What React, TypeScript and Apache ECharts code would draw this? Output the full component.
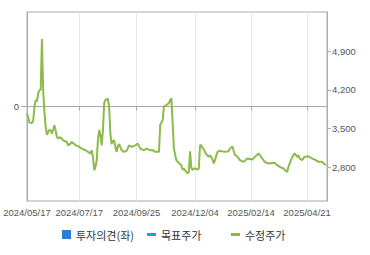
import React, { useEffect, useRef } from 'react';
import * as echarts from 'echarts';

// Korean market holidays (weekdays closed) in the period
const holidays = [
  '2024/06/06', '2024/08/15', '2024/09/16', '2024/09/17', '2024/09/18',
  '2024/10/01', '2024/10/03', '2024/10/09', '2024/12/25', '2024/12/31',
  '2025/01/01', '2025/01/27', '2025/01/28', '2025/01/29', '2025/01/30',
  '2025/03/03', '2025/05/01', '2025/05/05', '2025/05/06',
];
const labelDates = ['2024/05/17', '2024/07/17', '2024/09/25', '2024/12/04', '2025/02/14', '2025/04/21'];
const rightTicks = [2800, 3500, 4200, 4900];

// trading-day index and adjusted price (수정주가)
const dayIndex = [
  0, 2, 4, 5, 6, 7, 8, 9, 10, 11, 12, 13, 14, 15, 16, 17, 18, 19, 20, 21, 22, 23, 24, 25, 26, 28, 29,
  32, 33, 35, 36, 39, 41, 44, 47, 49, 51, 52, 53, 54, 55, 56, 57, 58, 59, 60, 61, 62, 63, 65, 66, 67,
  68, 69, 70, 71, 72, 73, 74, 76, 78, 80, 82, 84, 87, 89, 91, 94, 96, 99, 101, 103, 106, 107, 109, 110,
  112, 114, 115, 116, 117, 118, 119, 120, 122, 124, 125, 126, 128, 129, 130, 131, 132, 133, 134, 135,
  137, 138, 139, 140, 141, 142, 143, 144, 146, 147, 149, 150, 151, 153, 155, 157, 160, 162, 163, 165,
  166, 167, 169, 171, 174, 177, 181, 183, 186, 189, 191, 194, 197, 199, 201, 203, 206, 209, 210, 212,
  214, 215, 217, 218, 219, 221, 223, 226, 229, 232, 234, 237, 240,
];
const price = [
  3780, 3610, 3600, 3650, 3900, 4020, 3990, 4140, 4190, 4200, 5116, 4190, 3800, 3530, 3390, 3440, 3480,
  3470, 3410, 3480, 3560, 3470, 3350, 3320, 3350, 3320, 3290,
  3260, 3200, 3230, 3260, 3200, 3185, 3140, 3110, 3080, 3050, 3110, 2990, 2750, 2810, 2930, 3300, 3475,
  3380, 3200, 3470, 3960, 4018, 4040, 3880, 3400,
  3220, 3280, 3290, 3170, 3080, 3190, 3220, 3113, 3082, 3100, 3200, 3170, 3200, 3230, 3140, 3110, 3140,
  3110, 3113, 3082, 3082, 3565, 3656, 3900,
  3927, 3960, 4018, 4048, 3600, 3150, 3030, 2932, 2880, 2841, 2760, 2781, 2720, 2691, 2720, 3090, 2800,
  2751, 2781, 2781,
  2763, 2781, 3200, 3200, 3150, 3130, 3080, 3040, 2991, 3022, 2950, 2872, 2932, 3082, 3100, 3090, 3082,
  3095, 3140, 3180,
  3100, 3030, 2995, 2932, 2901, 2962, 2944, 2991, 3053, 2962, 2901, 2872, 2880, 2883, 2841, 2810, 2781,
  2720, 2810, 2932,
  3022, 3053, 2991, 3022, 2962, 2932, 2991, 3004, 2962, 2932, 2901, 2901, 2841,
];

function pad(n: number) {
  return String(n).padStart(2, '0');
}

function tradingDays(): string[] {
  const out: string[] = [];
  const d = new Date(Date.UTC(2024, 4, 17));
  const end = Date.UTC(2025, 4, 16);
  while (d.getTime() <= end) {
    const wd = d.getUTCDay();
    const s = `${d.getUTCFullYear()}/${pad(d.getUTCMonth() + 1)}/${pad(d.getUTCDate())}`;
    if (wd !== 0 && wd !== 6 && !holidays.includes(s)) out.push(s);
    d.setUTCDate(d.getUTCDate() + 1);
  }
  return out;
}

const FONT = 'Liberation Sans, Arial, sans-serif';
const KFONT = '"Noto Sans CJK KR", sans-serif';

export default function App() {
  const ref = useRef<HTMLDivElement>(null);
  useEffect(() => {
    if (!ref.current) return;
    const chart = echarts.init(ref.current, undefined, { renderer: 'svg' });
    const dates = tradingDays();
    const isLabel = (_i: number, v: string) => labelDates.includes(v);
    const isSplit = (i: number, v: string) => i !== 0 && labelDates.includes(v);
    const legendText = { fontSize: 11, color: '#333', fontFamily: KFONT };
    chart.setOption({
      animation: false,
      backgroundColor: '#fff',
      grid: { left: 27, right: 43, top: 12, bottom: 54, show: true, borderColor: '#aaa', borderWidth: 1 },
      legend: [
        {
          data: ['투자의견(좌)'], left: 62, top: 229, icon: 'rect', itemWidth: 9, itemHeight: 9,
          itemGap: 5, textStyle: legendText, padding: 0,
        },
        {
          data: ['목표주가'], left: 147, top: 229, icon: 'rect', itemWidth: 9, itemHeight: 3,
          textStyle: legendText, padding: 0,
        },
        {
          data: ['수정주가'], left: 231, top: 229, icon: 'rect', itemWidth: 9, itemHeight: 3,
          textStyle: legendText, padding: 0,
        },
      ],
      xAxis: {
        type: 'category',
        data: dates,
        boundaryGap: false,
        axisLine: { show: true, lineStyle: { color: '#aaa' } },
        axisTick: { show: true, interval: isLabel, length: 4, lineStyle: { color: '#aaa' } },
        axisLabel: { interval: isLabel, fontSize: 9.5, color: '#555', fontFamily: FONT, margin: 6 },
        splitLine: { show: true, interval: isSplit, lineStyle: { color: '#e6e6e6' } },
      },
      yAxis: [
        {
          type: 'value',
          position: 'left',
          min: -1,
          max: 1,
          interval: 1,
          axisLine: { show: true, lineStyle: { color: '#aaa' } },
          axisTick: { show: true, customValues: [0], length: 6, lineStyle: { color: '#aaa' } },
          axisLabel: { customValues: [0], fontSize: 9.5, color: '#555', fontFamily: FONT, margin: 8 },
          splitLine: { show: true, lineStyle: { color: '#e6e6e6' } },
        },
        {
          type: 'value',
          position: 'right',
          min: 2195,
          max: 5605,
          axisLine: { show: true, lineStyle: { color: '#aaa' } },
          axisTick: { show: true, customValues: rightTicks, length: 4, lineStyle: { color: '#aaa' } },
          axisLabel: {
            customValues: rightTicks,
            fontSize: 9.5,
            color: '#555',
            fontFamily: FONT,
            margin: 5,
            formatter: (v: number) => v.toLocaleString('en-US'),
          },
          splitLine: { show: false },
        },
      ],
      series: [
        { name: '투자의견(좌)', type: 'bar', yAxisIndex: 0, data: [], itemStyle: { color: '#2b7ddb' } },
        { name: '목표주가', type: 'line', yAxisIndex: 1, data: [], itemStyle: { color: '#23a4b4' }, lineStyle: { color: '#23a4b4' } },
        {
          name: '수정주가',
          type: 'line',
          yAxisIndex: 1,
          showSymbol: false,
          symbol: 'none',
          data: dayIndex.map((d, k) => [d, price[k]]),
          itemStyle: { color: '#8cba4b' },
          lineStyle: { color: '#8cba4b', width: 2 },
        },
      ],
    });
    return () => chart.dispose();
  }, []);
  return (
    <div
      ref={ref}
      style={{ position: 'fixed', left: 0, top: 0, width: 370, height: 255, background: '#fff' }}
    />
  );
}
